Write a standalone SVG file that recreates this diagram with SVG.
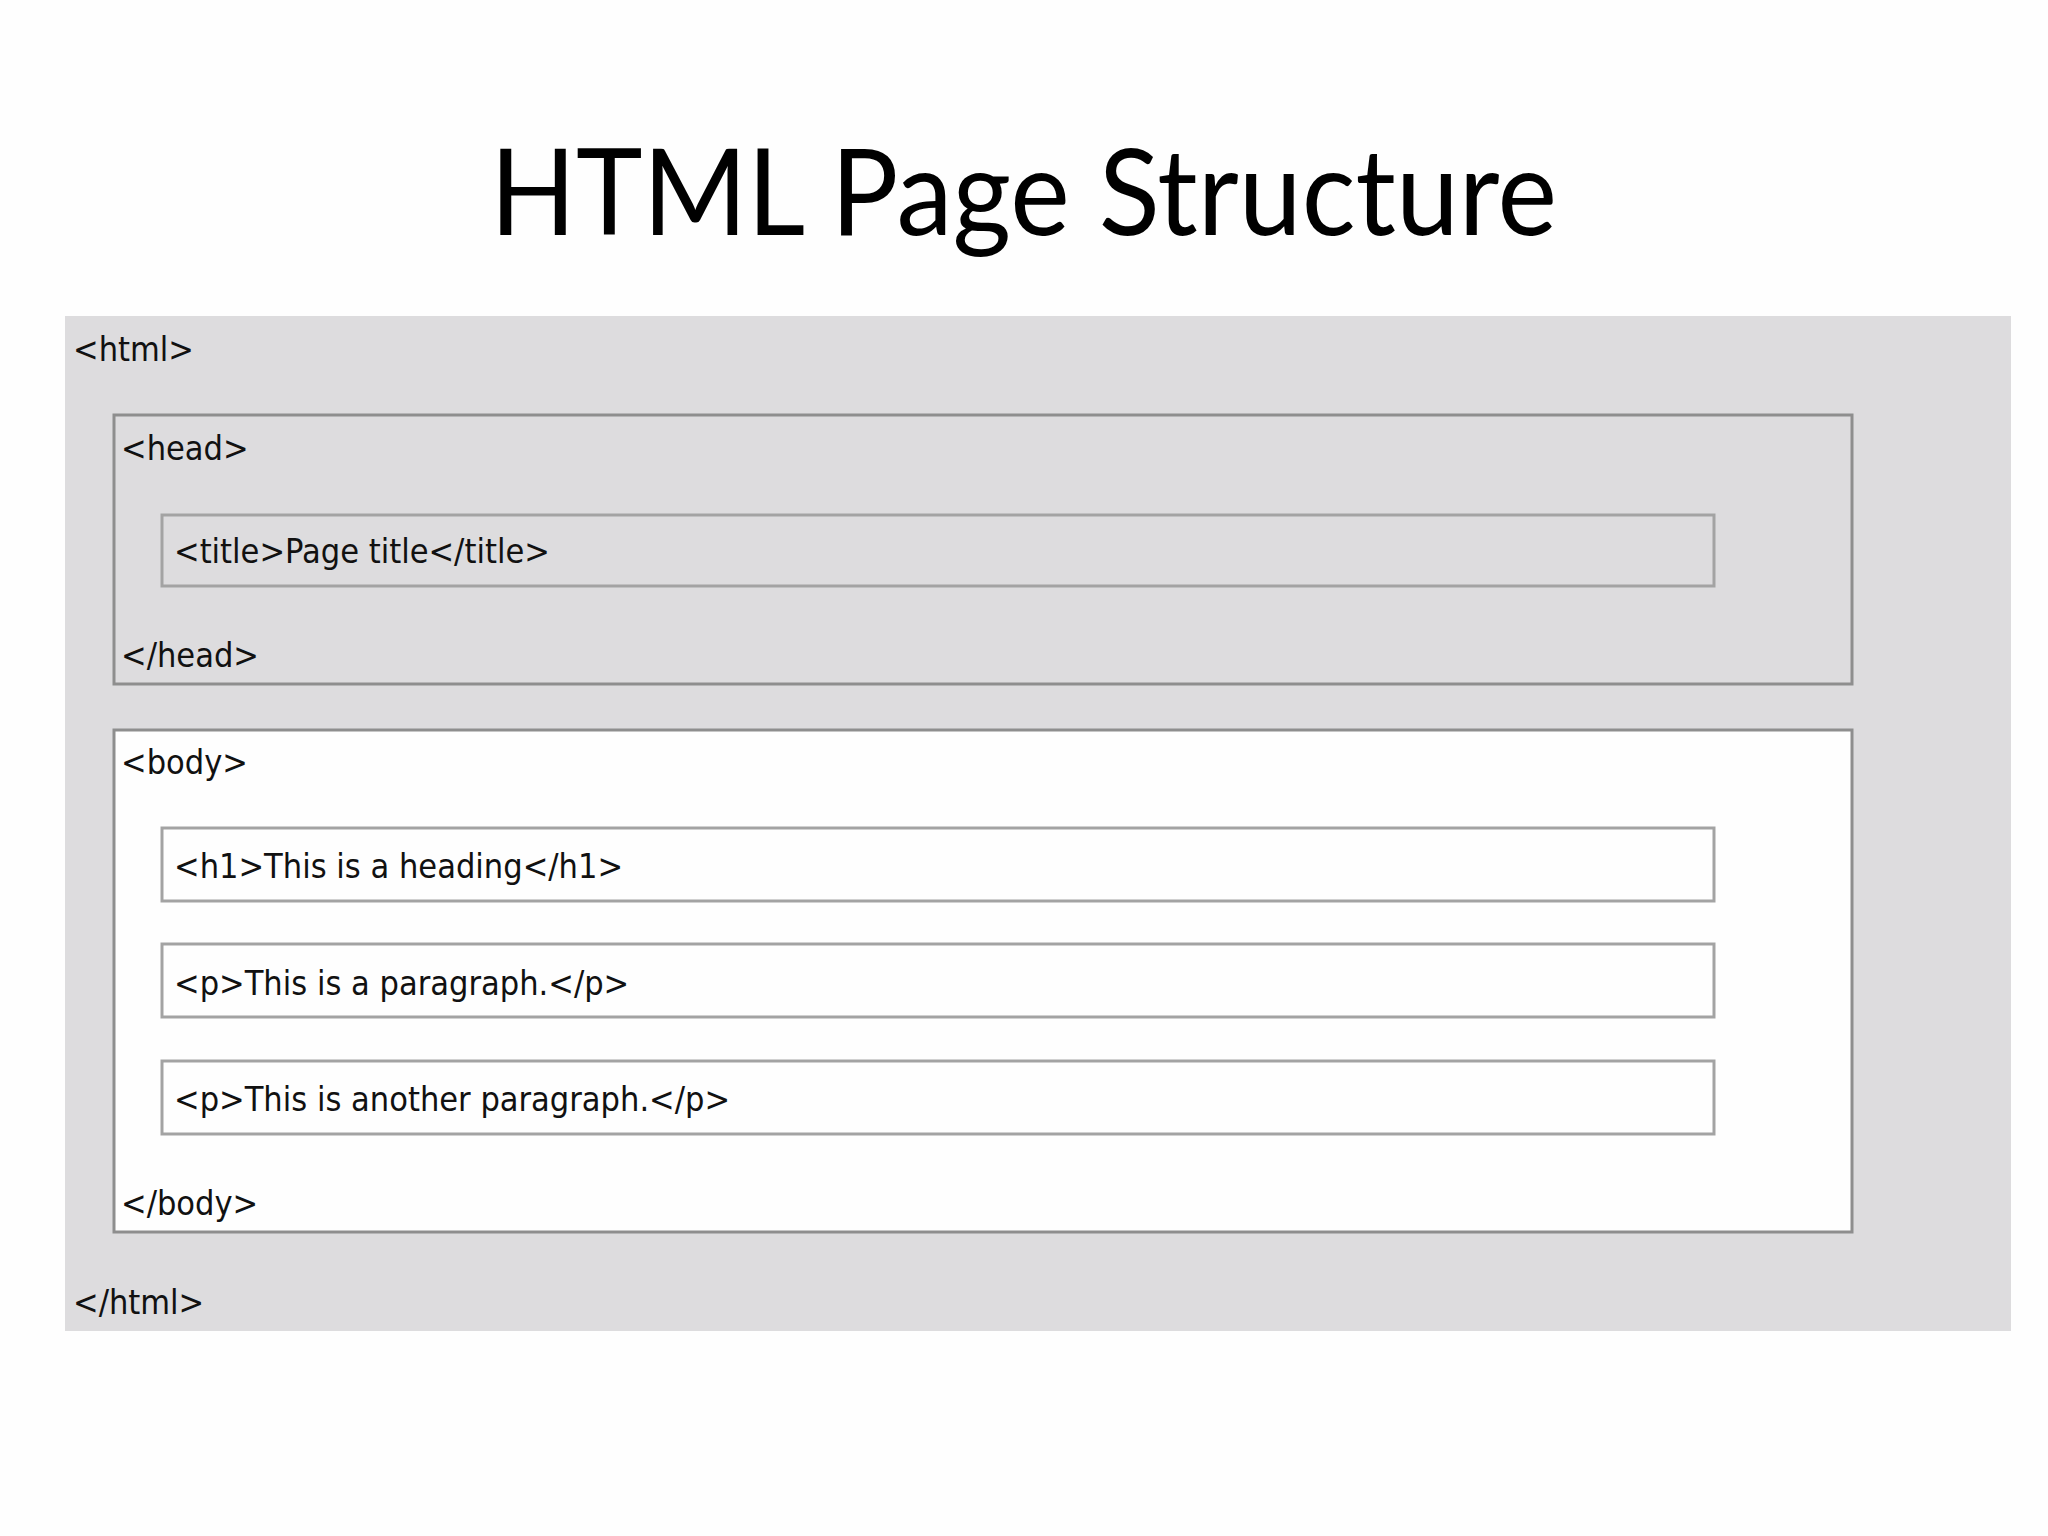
<svg xmlns="http://www.w3.org/2000/svg" width="2048" height="1536" viewBox="0 0 2048 1536">
<style>
.tag{font-family:"DejaVu Sans Condensed","DejaVu Sans",sans-serif;font-size:34px;fill:#111}
.box{stroke:#8e8e8e;stroke-width:3}
.inner{stroke:#a3a3a3;stroke-width:3}
</style>
<rect width="2048" height="1536" fill="#fefefe"/>
<text x="490" y="235" textLength="1067" lengthAdjust="spacingAndGlyphs" font-family="Lato, 'Open Sans', sans-serif" font-size="121" fill="#000">HTML Page Structure</text>
<g id="html">
<rect x="65" y="316" width="1946" height="1015" fill="#dddcde"/>
<text class="tag" x="73" y="361">&lt;html&gt;</text>
<text class="tag" x="73" y="1314">&lt;/html&gt;</text>
</g>
<g id="head">
<rect class="box" x="114" y="415" width="1738" height="269" fill="#dddcde"/>
<text class="tag" x="121" y="460">&lt;head&gt;</text>
<text class="tag" x="121" y="667">&lt;/head&gt;</text>
</g>
<g id="title">
<rect class="inner" x="162" y="515" width="1552" height="71" fill="#dddcde"/>
<text class="tag" x="174" y="563">&lt;title&gt;Page title&lt;/title&gt;</text>
</g>
<g id="body">
<rect class="box" x="114" y="730" width="1738" height="502" fill="#fefefe"/>
<text class="tag" x="121" y="774">&lt;body&gt;</text>
<text class="tag" x="121" y="1215">&lt;/body&gt;</text>
</g>
<g id="h1">
<rect class="inner" x="162" y="828" width="1552" height="73" fill="#fefefe"/>
<text class="tag" x="174" y="878">&lt;h1&gt;This is a heading&lt;/h1&gt;</text>
</g>
<g id="p1">
<rect class="inner" x="162" y="944" width="1552" height="73" fill="#fefefe"/>
<text class="tag" x="174" y="995">&lt;p&gt;This is a paragraph.&lt;/p&gt;</text>
</g>
<g id="p2">
<rect class="inner" x="162" y="1061" width="1552" height="73" fill="#fefefe"/>
<text class="tag" x="174" y="1111">&lt;p&gt;This is another paragraph.&lt;/p&gt;</text>
</g>
<g id="connectors"/>
</svg>
